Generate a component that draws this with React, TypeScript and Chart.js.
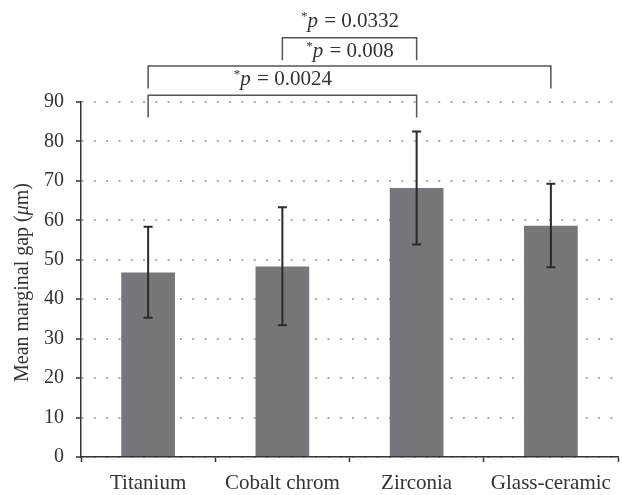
import React, { useEffect, useRef } from "react";
import { Chart, registerables } from "chart.js";

Chart.register(...registerables);

const categories = ["Titanium", "Cobalt chrom", "Zirconia", "Glass-ceramic"];
const means = [46.8, 48.3, 68.2, 58.6];
const errLow = [35.3, 33.4, 53.9, 48.1];
const errHigh = [58.4, 63.3, 82.5, 69.3];
const yMin = 0;
const yMax = 90;
const yStep = 10;

// significance brackets (category indices and heights in axis units)
const bracketFrom = [0, 0, 1];
const bracketTo = [2, 3, 2];
const bracketTop = [91.7, 99.1, 106.3];
const bracketLeg = [86.1, 93.4, 100.6];
// p-value labels
const pValues = ["0.0024", "0.008", "0.0332"];
const pLabelAt = [1.0, 1.5, 1.5];
const pLabelLevel = [94.2, 101.5, 109.1];

const FONT = "'Liberation Serif', 'Times New Roman', serif";
const TEXT = "#333333";

const overlay = {
  id: "overlay",
  afterDatasetsDraw(chart: any) {
    const { ctx, scales } = chart;
    const x = scales.x;
    const y = scales.y;
    ctx.save();
    ctx.strokeStyle = "#2b2b2b";
    ctx.lineWidth = 2;
    for (let i = 0; i < means.length; i++) {
      const px = x.getPixelForValue(i);
      const top = y.getPixelForValue(errHigh[i]);
      const bot = y.getPixelForValue(errLow[i]);
      ctx.beginPath();
      ctx.moveTo(px, top);
      ctx.lineTo(px, bot);
      ctx.moveTo(px - 4.5, top);
      ctx.lineTo(px + 4.5, top);
      ctx.moveTo(px - 4.5, bot);
      ctx.lineTo(px + 4.5, bot);
      ctx.stroke();
    }
    ctx.restore();
  },
  afterDraw(chart: any) {
    const { ctx, scales, chartArea } = chart;
    const x = scales.x;
    const y = scales.y;
    ctx.save();
    ctx.strokeStyle = "#555555";
    ctx.lineWidth = 1.5;
    for (let i = 0; i < bracketFrom.length; i++) {
      const x1 = x.getPixelForValue(bracketFrom[i]);
      const x2 = x.getPixelForValue(bracketTo[i]);
      const yt = y.getPixelForValue(bracketTop[i]);
      const yl = y.getPixelForValue(bracketLeg[i]);
      ctx.beginPath();
      ctx.moveTo(x1, yl);
      ctx.lineTo(x1, yt);
      ctx.lineTo(x2, yt);
      ctx.lineTo(x2, yl);
      ctx.stroke();
    }
    ctx.fillStyle = TEXT;
    ctx.textBaseline = "alphabetic";
    ctx.textAlign = "left";
    const fStar = `13px ${FONT}`;
    const fIt = `italic 21px ${FONT}`;
    const fN = `21px ${FONT}`;
    for (let i = 0; i < pValues.length; i++) {
      const cx = x.getPixelForValue(pLabelAt[i]);
      const by = y.getPixelForValue(pLabelLevel[i]);
      const rest = " = " + pValues[i];
      ctx.font = fStar;
      const w1 = ctx.measureText("*").width;
      ctx.font = fIt;
      const w2 = ctx.measureText("p").width;
      ctx.font = fN;
      const w3 = ctx.measureText(rest).width;
      let sx = cx - (w1 + w2 + w3) / 2;
      ctx.font = fStar;
      ctx.fillText("*", sx, by - 7);
      sx += w1;
      ctx.font = fIt;
      ctx.fillText("p", sx, by);
      sx += w2 + 1;
      ctx.font = fN;
      ctx.fillText(rest, sx, by);
    }
    const fT = `20px ${FONT}`;
    const fTi = `italic 20px ${FONT}`;
    const parts: [string, string][] = [
      ["Mean marginal gap (", fT],
      ["\u03bc", fTi],
      ["m)", fT],
    ];
    let total = 0;
    for (const [t, f] of parts) {
      ctx.font = f;
      total += ctx.measureText(t).width;
    }
    ctx.translate(28, (chartArea.top + chartArea.bottom) / 2 + 3);
    ctx.rotate(-Math.PI / 2);
    let tx = -total / 2;
    for (const [t, f] of parts) {
      ctx.font = f;
      ctx.fillText(t, tx, 0);
      tx += ctx.measureText(t).width;
    }
    ctx.restore();
  },
};

export default function App() {
  const ref = useRef<HTMLCanvasElement | null>(null);
  useEffect(() => {
    if (!ref.current) return;
    const chart = new Chart(ref.current, {
      type: "bar",
      data: {
        labels: categories,
        datasets: [
          {
            data: means,
            backgroundColor: "#76777b",
            borderWidth: 0,
            barPercentage: 0.4,
            categoryPercentage: 1,
          },
        ],
      },
      options: {
        responsive: false,
        animation: false,
        events: [],
        layout: { padding: { top: 102, right: 4, left: 0, bottom: 0 } },
        plugins: {
          legend: { display: false },
          tooltip: { enabled: false },
          title: { display: false },
        },
        scales: {
          x: {
            offset: true,
            grid: {
              offset: true,
              drawOnChartArea: false,
              drawTicks: true,
              tickLength: 5,
              tickColor: "#333333",
              tickWidth: 1.5,
            },
            border: { display: true, color: "#333333", width: 1.5 },
            ticks: {
              color: TEXT,
              font: { family: FONT, size: 21 },
              padding: 9,
              maxRotation: 0,
              autoSkip: false,
            },
            afterFit: (s: any) => {
              s.height = 38;
            },
          },
          y: {
            min: yMin,
            max: yMax,
            grid: {
              color: "#ababab",
              lineWidth: 2,
              drawTicks: true,
              tickLength: 5,
              tickColor: "#333333",
              tickWidth: 1.5,
              tickBorderDash: [],
            },
            border: {
              display: true,
              color: "#333333",
              width: 1.5,
              dash: [2, 10.3],
            },
            ticks: {
              stepSize: yStep,
              color: TEXT,
              font: { family: FONT, size: 20 },
              padding: 12,
            },
            afterFit: (s: any) => {
              s.width = 81;
            },
          },
        },
      },
      plugins: [overlay],
    });
    return () => chart.destroy();
  }, []);
  return (
    <div style={{ position: "absolute", left: 0, top: 0, width: 622, height: 495, background: "#fff" }}>
      <canvas ref={ref} width={622} height={495} style={{ display: "block" }} />
    </div>
  );
}
